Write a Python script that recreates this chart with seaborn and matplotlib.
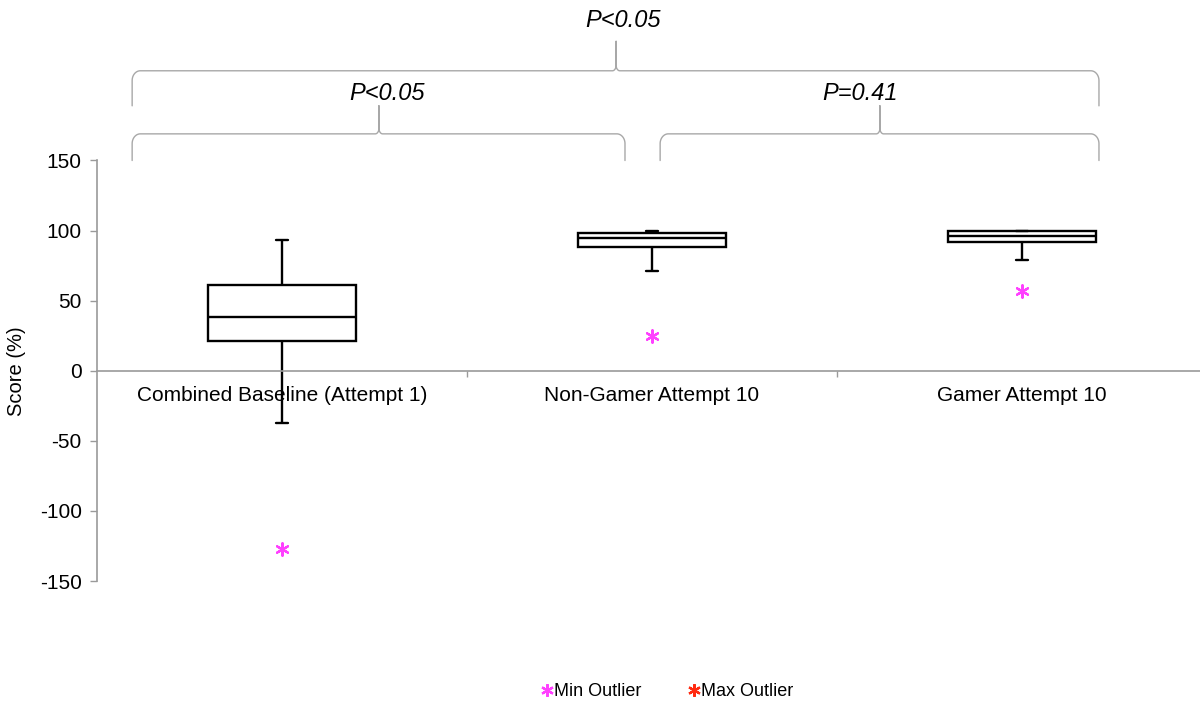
import matplotlib
matplotlib.use("Agg")
import matplotlib.pyplot as plt
from matplotlib.lines import Line2D
import numpy as np
import pandas as pd
import seaborn as sns

# box summaries (whiskers span min..max, no flier detection)
groups = ["Combined Baseline (Attempt 1)", "Non-Gamer Attempt 10", "Gamer Attempt 10"]
whisker_low = [-37, 71.5, 79]
quartile_1 = [21.5, 88, 92]
medians = [38, 95, 96]
quartile_3 = [61, 98.5, 100]
whisker_high = [93, 100, 100]
min_outliers = [-127, 24.5, 57]
max_outliers = []

y_ticks = [-150, -100, -50, 0, 50, 100, 150]

# significance braces: label, left end, right end, tip, text x, level
brace_labels = ["P<0.05", "P=0.41", "P<0.05"]
brace_left = [-0.405, 1.022, -0.405]
brace_right = [0.927, 2.208, 2.208]
brace_tip = [0.262, 1.616, 0.903]
brace_text_x = [0.284, 1.562, 0.922]
brace_level = [0, 0, 1]

MIN_COLOR = "#ff40ff"
MAX_COLOR = "#ff2a10"
GRID_GRAY = "#9a9a9a"
BRACE_GRAY = "#a8a8a8"
ASTERISK = (6, 2, 0)

sns.set_theme(style="white")
plt.rcParams["font.family"] = ["Liberation Sans", "DejaVu Sans"]
plt.rcParams["text.color"] = "black"
plt.rcParams["axes.labelcolor"] = "black"
plt.rcParams["xtick.labelcolor"] = "black"
plt.rcParams["ytick.labelcolor"] = "black"

rows = []
for i, g in enumerate(groups):
    for v in (whisker_low[i], quartile_1[i], medians[i], quartile_3[i], whisker_high[i]):
        rows.append({"group": g, "score": v})
box_df = pd.DataFrame(rows)
out_df = pd.DataFrame({"group": groups, "score": min_outliers})

fig = plt.figure(figsize=(12, 7.03), dpi=100)
ax = fig.add_axes([97 / 1200, 0.1735, 1110 / 1200, 0.5982])

sns.boxplot(
    data=box_df, x="group", y="score", order=groups, width=0.4,
    whis=(0, 100), showfliers=False, color="white", linecolor="black",
    linewidth=1.7, saturation=1, capwidths=0.035, ax=ax,
)
sns.stripplot(
    data=out_df, x="group", y="score", order=groups, jitter=False,
    marker=ASTERISK, color=MIN_COLOR, edgecolor=MIN_COLOR, linewidth=1.6,
    size=9, ax=ax, zorder=5,
)

ax.set_xlim(-0.5, 2.5)
ax.set_ylim(-150, 150)
ax.set_yticks(y_ticks)
ax.set_yticklabels([str(t) for t in y_ticks])
ax.set_xlabel("")
ax.set_ylabel("Score (%)", fontsize=14.5, labelpad=10)

for side in ("top", "right"):
    ax.spines[side].set_visible(False)
ax.spines["bottom"].set_position(("data", 0))
ax.spines["bottom"].set_color(GRID_GRAY)
ax.spines["left"].set_color(GRID_GRAY)
ax.spines["bottom"].set_linewidth(1.2)
ax.spines["left"].set_linewidth(1.2)

ax.tick_params(axis="y", which="major", left=True, length=5, width=1, color=GRID_GRAY,
               labelsize=15, pad=6)
ax.tick_params(axis="x", which="major", length=0, labelsize=15, pad=11)
ax.set_xticks([0.5, 1.5], minor=True)
ax.tick_params(axis="x", which="minor", bottom=True, length=4, width=1, color=GRID_GRAY)


def brace_points(x0, x1, xt, y_end, y_mid, y_tip, rx=0.022, ry=7.0, tx=0.01, ty=4.0):
    a = np.linspace(np.pi, np.pi / 2, 20)
    xs = [x0] + list(x0 + rx + rx * np.cos(a))
    ys = [y_end] + list(y_mid - ry + ry * np.sin(a))
    a = np.linspace(1.5 * np.pi, 2 * np.pi, 20)
    xs += list(xt - tx + tx * np.cos(a)) + [xt]
    ys += list(y_mid + ty + ty * np.sin(a)) + [y_tip]
    a = np.linspace(np.pi, 1.5 * np.pi, 20)
    xs += list(xt + tx + tx * np.cos(a))
    ys += list(y_mid + ty + ty * np.sin(a))
    a = np.linspace(np.pi / 2, 0, 20)
    xs += list(x1 - rx + rx * np.cos(a)) + [x1]
    ys += list(y_mid - ry + ry * np.sin(a)) + [y_end]
    return xs, ys


level_y = [(150, 169, 189, 197.5), (189, 214, 235, 250)]
for lab, x0, x1, xt, xtext, lvl in zip(brace_labels, brace_left, brace_right,
                                       brace_tip, brace_text_x, brace_level):
    y_end, y_mid, y_tip, y_text = level_y[lvl]
    xs, ys = brace_points(x0, x1, xt, y_end, y_mid, y_tip)
    ax.plot(xs, ys, color=BRACE_GRAY, linewidth=1.0, clip_on=False)
    ax.text(xtext, y_text, lab, ha="center", va="center", fontsize=17,
            fontstyle="italic", color="black", clip_on=False)

handles = [
    Line2D([], [], linestyle="none", marker=ASTERISK, markersize=9,
           markeredgecolor=MIN_COLOR, markeredgewidth=1.6, label="Min Outlier"),
    Line2D([], [], linestyle="none", marker=ASTERISK, markersize=9,
           markeredgecolor=MAX_COLOR, markeredgewidth=1.6, label="Max Outlier"),
]
fig.legend(handles=handles, loc="center", bbox_to_anchor=(0.556, 0.016), ncol=2,
           frameon=False, fontsize=13, handlelength=0.6, handletextpad=0.1,
           columnspacing=2.6)

fig.savefig("out.png", dpi=100)
plt.close(fig)
